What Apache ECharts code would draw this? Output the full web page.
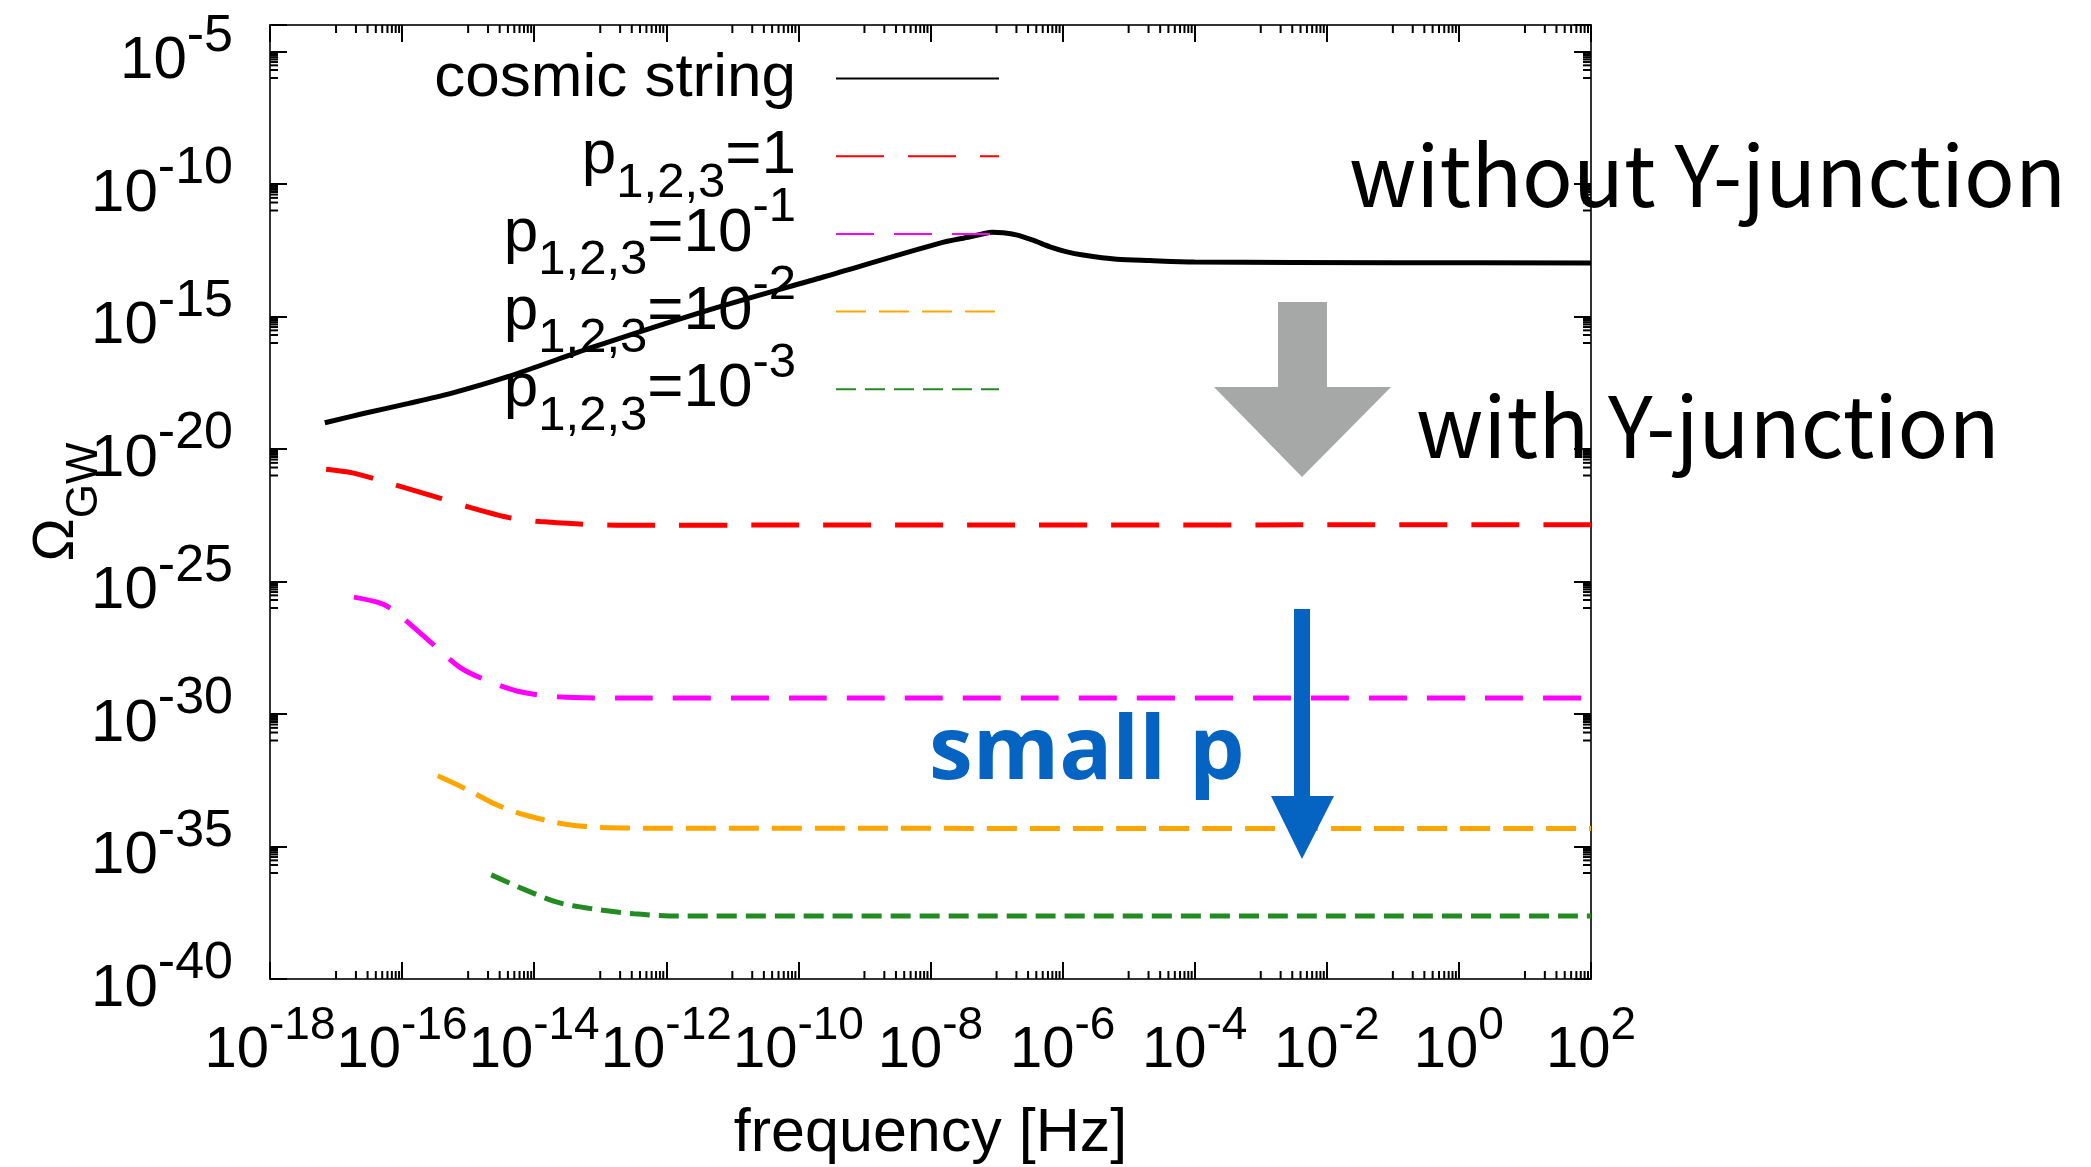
<!DOCTYPE html>
<html>
<head>
<meta charset="utf-8">
<script src="https://cdn.jsdelivr.net/npm/echarts@6/dist/echarts.min.js"></script>
<style>
  html, body { margin: 0; padding: 0; background: #ffffff; }
  #chart { width: 2091px; height: 1167px; }
</style>
</head>
<body>
<div id="chart"></div>
<script>
// Curves are stored as log10(frequency / Hz) and log10(Omega_GW);
// both axes are laid out in decades and labelled as powers of ten.
const stringLogF = [-17.17, -16.57, -15.90, -15.26, -14.40, -13.09, -11.35, -9.61, -7.87, -7.40, -7.20, -7.07, -6.90, -6.70, -6.45, -6.19, -5.95, -5.69, -5.18, -4.68, -4.0, -1.0, 2.0];
const stringLogO = [-19.01, -18.65, -18.28, -17.90, -17.27, -16.14, -14.75, -13.50, -12.24, -11.99, -11.88, -11.82, -11.84, -11.92, -12.12, -12.37, -12.55, -12.68, -12.84, -12.89, -12.94, -12.97, -12.98];

const p1LogF = [-17.15, -16.75, -16.14, -15.43, -14.99, -14.38, -13.91, -13.31, -12.63, -10.0, 2.0];
const p1LogO = [-20.76, -20.90, -21.33, -21.85, -22.19, -22.59, -22.74, -22.83, -22.88, -22.87, -22.86];

const p01LogF = [-16.73, -16.34, -16.14, -15.53, -15.13, -14.79, -14.25, -13.64, -12.63, -10.0, 2.0];
const p01LogO = [-25.59, -25.81, -26.07, -27.37, -28.23, -28.66, -29.14, -29.35, -29.40, -29.40, -29.40];

const p001LogF = [-15.46, -14.99, -14.59, -14.11, -13.50, -12.96, -12.0, 2.0];
const p001LogO = [-32.33, -32.88, -33.40, -33.83, -34.17, -34.28, -34.31, -34.32];

const p0001LogF = [-14.65, -14.18, -13.64, -13.10, -12.49, -11.81, -10.0, 2.0];
const p0001LogO = [-36.07, -36.59, -37.11, -37.36, -37.54, -37.62, -37.62, -37.62];

// Axis ranges in decades and major tick steps
const xMinExp = -18, xMaxExp = 2, xStep = 2;
const yMinExp = -40, yMaxExp = -4, yStep = 5;

const seriesNames = ['cosmic string', 'p=1', 'p=0.1', 'p=0.01', 'p=0.001'];
// every key entry carries a sub and a sup slot so all rows share one height
const ZW = '\u200b';
const legendLabels = {
  'cosmic string': '{b|cosmic string}{sub|' + ZW + '}{sup|' + ZW + '}',
  'p=1': '{b|p}{sub|1,2,3}{b|=1}{sup|' + ZW + '}',
  'p=0.1': '{b|p}{sub|1,2,3}{b|=10}{sup|-1}',
  'p=0.01': '{b|p}{sub|1,2,3}{b|=10}{sup|-2}',
  'p=0.001': '{b|p}{sub|1,2,3}{b|=10}{sup|-3}'
};

const FONT = 'Liberation Sans';

function toPairs(logF, logO) {
  return logF.map((f, i) => [f, logO[i]]);
}

// gnuplot-style minor ticks at k * 10^(n-1), k = 1..9, just below each major tick
const xMinorTicks = [];
for (let e = xMinExp + xStep - 1; e < xMaxExp; e += xStep) {
  for (let k = 1; k <= 9; k++) xMinorTicks.push(e + Math.log10(k));
}
const yMinorTicks = [];
for (let e = yMinExp + yStep - 1; e < yMaxExp; e += yStep) {
  for (let k = 1; k <= 9; k++) yMinorTicks.push(e + Math.log10(k));
}

function powerRich(base, sup) {
  return {
    b: { fontFamily: FONT, fontSize: base, lineHeight: 60, color: '#000', padding: [20, 0, 0, 0] },
    s: { fontFamily: FONT, fontSize: sup, lineHeight: 60, color: '#000', padding: [0, 0, 30, 0] }
  };
}

function powerLabel(step) {
  return function (value) {
    const e = Math.round(value);
    if (Math.abs(value - e) > 1e-6 || e % step !== 0) return '';
    return '{b|10}{s|' + e + '}';
  };
}

const borderLine = { show: true, onZero: false, lineStyle: { color: '#333', width: 2 } };
const majorTick = { show: true, inside: true, length: 17, lineStyle: { color: '#000', width: 2 } };

const lineSeries = (name, data, color, dash) => ({
  name: name,
  type: 'line',
  data: data,
  xAxisIndex: 0,
  yAxisIndex: 0,
  symbol: 'none',
  showSymbol: false,
  smooth: 0.3,
  lineStyle: { color: color, width: 5, type: dash, cap: 'butt' },
  itemStyle: { color: color },
  z: 3
});

const chart = echarts.init(document.getElementById('chart'));
chart.setOption({
  animation: false,
  backgroundColor: '#ffffff',
  grid: { left: 270, right: 500, top: 25, bottom: 188, containLabel: false, outerBoundsMode: 'none' },
  xAxis: [{
    type: 'value', min: xMinExp, max: xMaxExp, interval: xStep,
    position: 'bottom',
    axisLine: borderLine, axisTick: majorTick, splitLine: { show: false },
    axisLabel: {
      margin: 32, showMinLabel: true, showMaxLabel: true, hideOverlap: false,
      formatter: powerLabel(xStep), rich: powerRich(58, 46)
    },
    name: 'frequency [Hz]', nameLocation: 'middle', nameGap: 125, nameMoveOverlap: false,
    nameTextStyle: { fontFamily: FONT, fontSize: 61, lineHeight: 60, color: '#000' }
  }, {
    type: 'value', min: xMinExp, max: xMaxExp, interval: xStep,
    position: 'top',
    axisLine: borderLine, axisTick: majorTick, splitLine: { show: false },
    axisLabel: { show: false }
  }],
  yAxis: [{
    type: 'value', min: yMinExp, max: yMaxExp, interval: yStep,
    position: 'left',
    axisLine: borderLine, axisTick: majorTick, splitLine: { show: false },
    axisLabel: {
      margin: 37, showMinLabel: true, showMaxLabel: true, hideOverlap: false,
      formatter: powerLabel(yStep), rich: powerRich(60, 52)
    },
    name: '{o|Ω}{g|GW}', nameLocation: 'middle', nameGap: 173, nameRotate: 90, nameMoveOverlap: false,
    nameTextStyle: {
      rich: {
        o: { fontFamily: FONT, fontSize: 58, lineHeight: 62, color: '#000', padding: [0, 0, 18, 0] },
        g: { fontFamily: FONT, fontSize: 44, lineHeight: 62, color: '#000', padding: [38, 0, 0, 0] }
      }
    }
  }, {
    type: 'value', min: yMinExp, max: yMaxExp, interval: yStep,
    position: 'right',
    axisLine: borderLine, axisTick: majorTick, splitLine: { show: false },
    axisLabel: { show: false }
  }],
  legend: {
    orient: 'vertical', align: 'right', right: 1091, top: 27, padding: 0,
    itemWidth: 163, itemHeight: 20, itemGap: -25.3,
    selectedMode: false,
    data: seriesNames,
    formatter: name => legendLabels[name],
    itemStyle: { opacity: 0 },
    textStyle: {
      fontFamily: FONT, fontSize: 62, color: '#000', padding: [0, 35, 0, 0],
      rich: {
        b: { fontFamily: FONT, fontSize: 62, lineHeight: 62, color: '#000' },
        sub: { fontFamily: FONT, fontSize: 49, lineHeight: 62, color: '#000', padding: [54, 0, 0, 0] },
        sup: { fontFamily: FONT, fontSize: 49, lineHeight: 62, color: '#000', padding: [0, 0, 52, 0] }
      }
    }
  },
  series: [
    lineSeries(seriesNames[0], toPairs(stringLogF, stringLogO), '#000000', 'solid'),
    lineSeries(seriesNames[1], toPairs(p1LogF, p1LogO), '#ff0000', [48, 24]),
    lineSeries(seriesNames[2], toPairs(p01LogF, p01LogO), '#ff00ff', [38, 20]),
    lineSeries(seriesNames[3], toPairs(p001LogF, p001LogO), '#ffa500', [30, 13]),
    lineSeries(seriesNames[4], toPairs(p0001LogF, p0001LogO), '#228b22', [20, 9]),
    {
      name: 'x minor ticks', type: 'custom', silent: true, z: 4,
      xAxisIndex: 0, yAxisIndex: 0,
      data: xMinorTicks.map(v => [v, yMinExp]),
      renderItem: (params, api) => {
        const v = api.value(0);
        const b = api.coord([v, yMinExp]);
        const t = api.coord([v, yMaxExp]);
        const st = { stroke: '#000', lineWidth: 2 };
        return { type: 'group', children: [
          { type: 'line', shape: { x1: b[0], y1: b[1], x2: b[0], y2: b[1] - 8 }, style: st },
          { type: 'line', shape: { x1: t[0], y1: t[1], x2: t[0], y2: t[1] + 8 }, style: st }
        ] };
      }
    },
    {
      name: 'y minor ticks', type: 'custom', silent: true, z: 4,
      xAxisIndex: 0, yAxisIndex: 0,
      data: yMinorTicks.map(v => [xMinExp, v]),
      renderItem: (params, api) => {
        const v = api.value(1);
        const l = api.coord([xMinExp, v]);
        const r = api.coord([xMaxExp, v]);
        const st = { stroke: '#000', lineWidth: 2 };
        return { type: 'group', children: [
          { type: 'line', shape: { x1: l[0], y1: l[1], x2: l[0] + 8, y2: l[1] }, style: st },
          { type: 'line', shape: { x1: r[0], y1: r[1], x2: r[0] - 8, y2: r[1] }, style: st }
        ] };
      }
    }
  ],
  graphic: [
    { type: 'polygon', z: 10, silent: true,
      shape: { points: [[1278, 302], [1327, 302], [1327, 387], [1391, 387], [1302, 477], [1214, 387], [1278, 387]] },
      style: { fill: '#a6a8a7' } },
    { type: 'rect', z: 10, silent: true,
      shape: { x: 1294, y: 609, width: 16, height: 188 }, style: { fill: '#0563c1' } },
    { type: 'polygon', z: 10, silent: true,
      shape: { points: [[1271, 796], [1334, 796], [1302, 859]] }, style: { fill: '#0563c1' } },
    { type: 'text', z: 10, silent: true,
      style: { text: 'without Y-junction', x: 1349, y: 175, fill: '#000', verticalAlign: 'middle',
        font: '84px "Noto Sans CJK JP"' } },
    { type: 'text', z: 10, silent: true,
      style: { text: 'with Y-junction', x: 1416, y: 426, fill: '#000', verticalAlign: 'middle',
        font: '84px "Noto Sans CJK JP"' } },
    { type: 'text', z: 10, silent: true,
      style: { text: 'small p', x: 929, y: 754, fill: '#0563c1', verticalAlign: 'middle',
        font: 'bold 88px "Open Sans"' } }
  ]
});
</script>
</body>
</html>
